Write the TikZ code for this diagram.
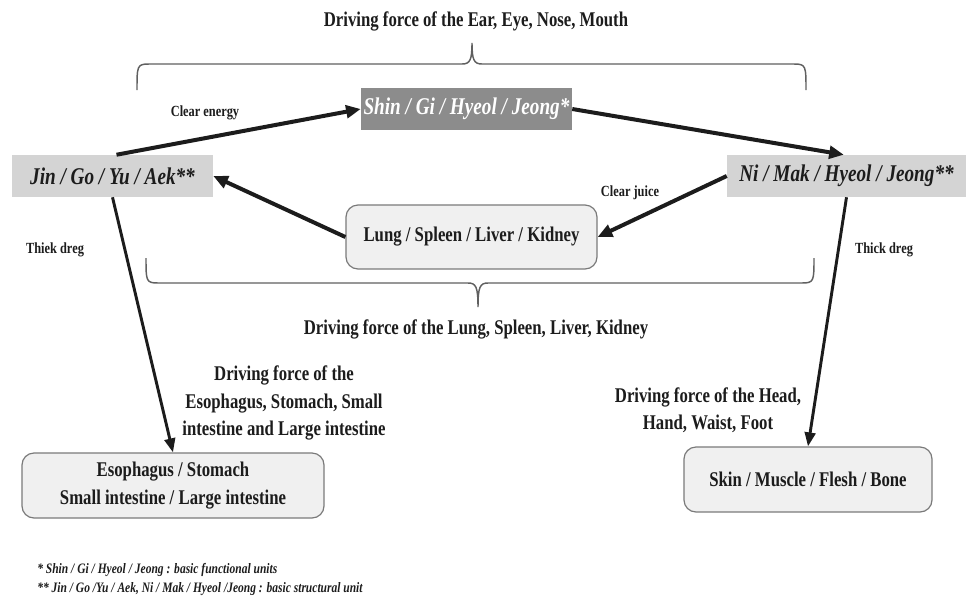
\documentclass[tikz,border=0pt]{standalone}
\usepackage{fontspec}
\setmainfont{Liberation Serif}[FakeStretch=0.8]
\usetikzlibrary{arrows.meta}
\definecolor{unitdark}{HTML}{8C8C8C}
\definecolor{unitlight}{HTML}{D4D4D4}
\definecolor{organfill}{HTML}{F0F0F0}
\definecolor{organline}{HTML}{7A7A7A}
\definecolor{bracecol}{HTML}{606060}
\definecolor{ink}{HTML}{1C1C1C}
\begin{document}
\begin{tikzpicture}[x=0.75pt,y=-0.75pt,
  lbl/.style={font=\fontsize{15.7}{20.6}\selectfont\bfseries, align=center, inner sep=0pt, text=ink},
  small/.style={font=\fontsize{11.6}{13}\selectfont\bfseries, inner sep=0pt, text=ink},
  note/.style={font=\fontsize{10.8}{13}\selectfont\bfseries\itshape, inner sep=0pt, anchor=west, text=ink},
  unit/.style={font=\fontsize{18}{20}\selectfont\bfseries\itshape, inner sep=0pt, minimum height=31.5pt},
  organ/.style={draw=organline, line width=0.9pt, fill=organfill, rounded corners=9pt,
    font=\fontsize{15.7}{20.6}\selectfont\bfseries, align=center, inner sep=0pt, text=ink},
  flow/.style={draw=ink, line width=3pt, -{Triangle[length=11pt,width=9.5pt]}},
  down/.style={draw=ink, line width=2.2pt, -{Triangle[length=10.5pt,width=8pt]}},
  brace/.style={draw=bracecol, line width=1.1pt},
]
\useasboundingbox (0,0) rectangle (968,601);

% headings
\node[lbl] (topttl) at (476,21) {Driving force of the Ear, Eye, Nose, Mouth};
\node[lbl] (midttl) at (476,329) {Driving force of the Lung, Spleen, Liver, Kidney};

% braces
\draw[brace] (137,90) .. controls (137,66) and (137,64) .. (149,64) -- (462,64)
  .. controls (470,64) and (472,60) .. (472,43)
  .. controls (472,60) and (474,64) .. (482,64) -- (794,64)
  .. controls (806,64) and (806,66) .. (806,90);
\draw[brace] (146,258) .. controls (146,281) and (146,283) .. (158,283) -- (468,283)
  .. controls (476,283) and (478,287) .. (478,307)
  .. controls (478,287) and (480,283) .. (488,283) -- (802,283)
  .. controls (814,283) and (814,281) .. (814,258);

% units
\node[unit, fill=unitdark, text=white, minimum width=158.25pt] (shin) at (466.5,109) {Shin / Gi / Hyeol / Jeong*};
\node[unit, fill=unitlight, text=ink, minimum width=150.75pt] (jin) at (112.5,176) {Jin / Go / Yu / Aek**};
\node[unit, fill=unitlight, text=ink, minimum width=179.25pt] (ni) at (846.5,176) {Ni / Mak / Hyeol / Jeong**};

% organ boxes
\node[organ, minimum width=188.25pt, minimum height=48pt] (lung) at (471.5,237) {Lung / Spleen / Liver / Kidney};
\node[organ, minimum width=226.5pt, minimum height=48.75pt] (eso) at (173,485.5) {Esophagus / Stomach\\Small intestine / Large intestine};
\node[organ, minimum width=186pt, minimum height=48.75pt] (skin) at (808,479.5) {Skin / Muscle / Flesh / Bone};

% connectors
\draw[flow] ([xshift=3pt]jin.north) -- (shin.west);
\draw[flow] (shin.east) -- ([xshift=-2pt]ni.north);
\draw[flow] (ni.west) -- (lung.east);
\draw[flow] (lung.west) -- (jin.east);
\draw[down] (jin.south) -- (eso.north);
\draw[down] (ni.south) -- (skin.north);

% connector labels
\node[small] (lclear) at (205,113) {Clear energy};
\node[small] (ljuice) at (630,193) {Clear juice};
\node[small] (lthiek) at (55,250) {Thiek dreg};
\node[small] (lthick) at (884,250) {Thick dreg};
\node[lbl] (lgut) at (284,403) {Driving force of the\\Esophagus, Stomach, Small\\intestine and Large intestine};
\node[lbl] (lhead) at (708,410) {Driving force of the Head,\\Hand, Waist, Foot};

% footnotes
\node[note] (fn1) at (37,570) {* Shin / Gi / Hyeol / Jeong : basic functional units};
\node[note] (fn2) at (37,589) {** Jin / Go /Yu / Aek, Ni / Mak / Hyeol /Jeong : basic structural unit};
\end{tikzpicture}
\end{document}
